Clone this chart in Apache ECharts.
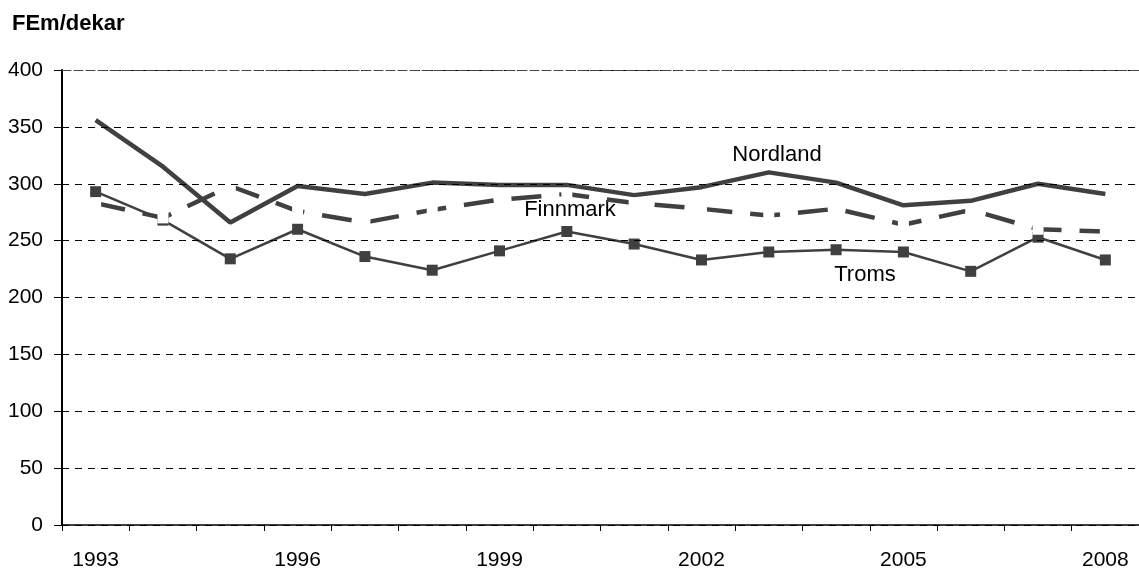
<!DOCTYPE html>
<html>
<head>
<meta charset="utf-8">
<script src="https://cdn.jsdelivr.net/npm/echarts@6/dist/echarts.min.js"></script>
<style>
  html, body { margin: 0; padding: 0; background: #fff; }
  #main { width: 1139px; height: 571px; }
</style>
</head>
<body>
<div id="main"></div>
<script>
// 資料
var years = ['1993', '1994', '1995', '1996', '1997', '1998', '1999', '2000',
             '2001', '2002', '2003', '2004', '2005', '2006', '2007', '2008'];
var nordland = [356, 315, 266, 298, 291, 301, 299, 299, 290, 297, 310, 301, 281, 285, 300, 291];
var finnmark = [283, 270, 298, 276, 266, 277, 286, 291, 283, 278, 272, 278, 264, 277, 260, 258];
var troms = [293, 268, 234, 260, 236, 224, 241, 258, 247, 233, 240, 242, 240, 223, 253, 233];
var yTicks = { min: 0, max: 400, interval: 50 };

var chart = echarts.init(document.getElementById('main'));
var font = 'Liberation Sans, Arial, sans-serif';
var dark = '#404040';

var option = {
    animation: false,
    backgroundColor: '#fff',
    textStyle: { fontFamily: font },
    grid: { left: 62, right: -8, top: 70, bottom: 44 },
    xAxis: [{
        type: 'category',
        data: years,
        boundaryGap: true,
        z: 5,
        axisLine: { show: true, lineStyle: { color: '#000', width: 1.5 } },
        axisTick: { show: true, interval: 0, length: 6, lineStyle: { color: '#000', width: 1 } },
        axisLabel: { interval: 2, color: '#000', fontSize: 21, margin: 25 },
        splitLine: { show: false }
    }, {
        // 上方的外框線
        type: 'category',
        data: years,
        position: 'top',
        z: 5,
        axisLine: { show: true, lineStyle: { color: '#444', width: 1, type: [9, 3] } },
        axisTick: { show: false },
        axisLabel: { show: false }
    }],
    yAxis: {
        type: 'value',
        min: yTicks.min,
        max: yTicks.max,
        interval: yTicks.interval,
        z: 4,
        axisLine: { show: true, lineStyle: { color: '#000', width: 2 } },
        axisTick: { show: true, length: 8, lineStyle: { color: '#000' } },
        axisLabel: { color: '#000', fontSize: 21, margin: 19 },
        splitLine: { lineStyle: { color: '#000', width: 1, type: [7, 6] } }
    },
    graphic: [
        { type: 'text', left: 12, top: 13, style: { text: 'FEm/dekar', font: 'bold 22px ' + font, fill: '#000' } },
        { type: 'text', x: 777, y: 155, style: { text: 'Nordland', font: '22px ' + font, fill: '#000', align: 'center', verticalAlign: 'middle' } },
        { type: 'text', x: 570, y: 210, style: { text: 'Finnmark', font: '22px ' + font, fill: '#000', align: 'center', verticalAlign: 'middle' } },
        { type: 'text', x: 865, y: 275, style: { text: 'Troms', font: '22px ' + font, fill: '#000', align: 'center', verticalAlign: 'middle' } }
    ],
    series: [{
        name: 'Troms',
        type: 'line',
        data: troms,
        symbol: 'rect',
        symbolSize: 11,
        itemStyle: { color: dark },
        lineStyle: { color: dark, width: 2.5 }
    }, {
        name: 'Finnmark',
        type: 'line',
        data: finnmark,
        symbol: 'rect',
        symbolSize: 11,
        itemStyle: { color: '#fff', borderWidth: 0 },
        lineStyle: { color: dark, width: 4.5, type: [30, 18] }
    }, {
        name: 'Nordland',
        type: 'line',
        data: nordland,
        symbol: 'none',
        itemStyle: { color: dark },
        lineStyle: { color: dark, width: 4.5 }
    }]
};

chart.setOption(option);
</script>
</body>
</html>
